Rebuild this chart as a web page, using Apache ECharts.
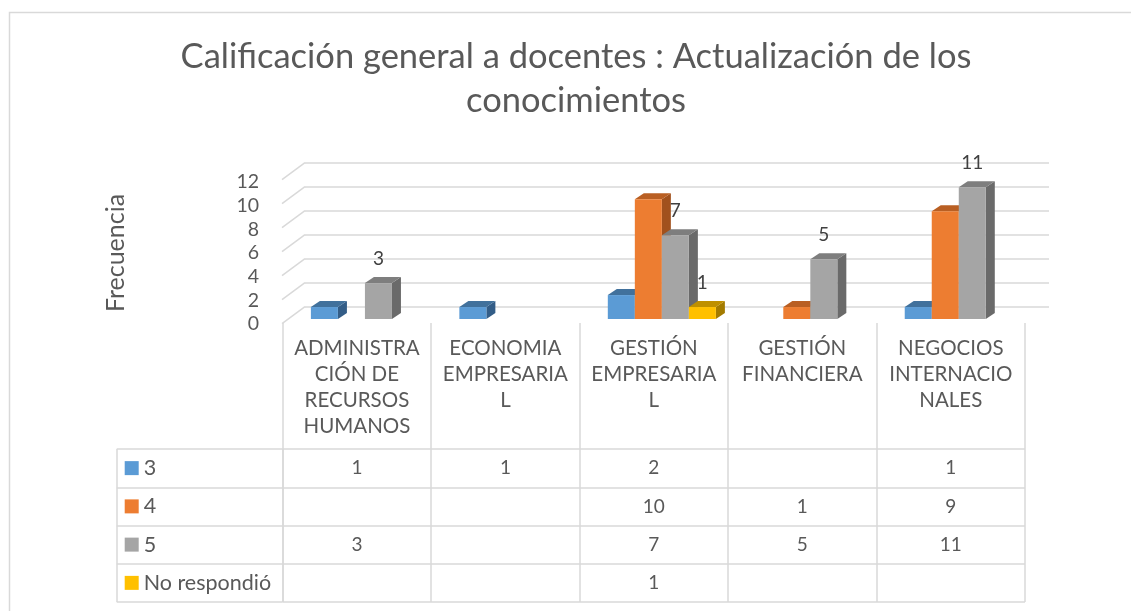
<!DOCTYPE html>
<html>
<head>
<meta charset="utf-8">
<script src="https://cdn.jsdelivr.net/npm/echarts@6/dist/echarts.min.js"></script>
<style>
    html, body { margin: 0; padding: 0; background: #fff; }
    #main { width: 1131px; height: 611px; }
</style>
</head>
<body>
<div id="main"></div>
<script>
;(function(){
    // datos
    var titulo = 'Calificación general a docentes : Actualización de los\nconocimientos';
    var categorias = ['ADMINISTRA\nCIÓN DE\nRECURSOS\nHUMANOS', 'ECONOMIA\nEMPRESARIA\nL', 'GESTIÓN\nEMPRESARIA\nL', 'GESTIÓN\nFINANCIERA', 'NEGOCIOS\nINTERNACIO\nNALES'];
    var nombres = ['3', '4', '5', 'No respondió'];
    var valores3 = [1, 1, 2, null, 1];
    var valores4 = [null, null, 10, 1, 9];
    var valores5 = [3, null, 7, 5, 11];
    var valoresNR = [null, null, 1, null, null];
    var yTicks = [0, 2, 4, 6, 8, 10, 12];

    var tablas = [valores3, valores4, valores5, valoresNR];
    var conEtiqueta = [false, false, true, true];
    var fuente = 'Lato, Carlito, Calibri, sans-serif';
    var gris = '#595959', linea = '#d9d9d9';
    var colores = [
        {front: '#5B9BD5', top: '#41719C', side: '#335D87'},
        {front: '#ED7D31', top: '#B95F23', side: '#A1511D'},
        {front: '#A5A5A5', top: '#7E7E7E', side: '#6A6A6A'},
        {front: '#FFC000', top: '#BF9000', side: '#A37B00'}
    ];

    function barra(idx) {
        return function (params, api) {
            var c = api.value(0), v = api.value(1);
            var base = api.coord([c, 0]);
            var top = api.coord([c, v]);
            var bw = api.size([1, 0])[0] * 0.182;
            var x0 = base[0] - 2 * bw + idx * bw;
            var dx = 9, dy = -6;
            var col = colores[idx];
            var kids = [
                {type: 'polygon', shape: {points: [[x0 + bw, top[1]], [x0 + bw + dx, top[1] + dy], [x0 + bw + dx, base[1] + dy], [x0 + bw, base[1]]]}, style: {fill: col.side}},
                {type: 'polygon', shape: {points: [[x0, top[1]], [x0 + bw, top[1]], [x0 + bw + dx, top[1] + dy], [x0 + dx, top[1] + dy]]}, style: {fill: col.top}},
                {type: 'rect', shape: {x: x0, y: top[1], width: bw, height: base[1] - top[1]}, style: {fill: col.front}}
            ];
            if (conEtiqueta[idx]) {
                kids.push({type: 'text', x: x0 + bw / 2, y: top[1] - 24,
                    style: {text: String(v), align: 'center', verticalAlign: 'middle', fontSize: 19, fontFamily: fuente, fill: '#404040'}});
            }
            return {type: 'group', children: kids};
        };
    }

    var series = [];
    // lineas diagonales del piso/pared
    series.push({
        type: 'custom', xAxisIndex: 0, yAxisIndex: 0, silent: true,
        data: yTicks.map(function (v) { return [0, v]; }),
        renderItem: function (params, api) {
            var p = api.coord([0, api.value(1)]);
            return {type: 'line', shape: {x1: p[0], y1: p[1], x2: p[0] - 23, y2: p[1] + 17}, style: {stroke: linea, lineWidth: 1.5}};
        }
    });
    tablas.forEach(function (vals, s) {
        var d = [];
        vals.forEach(function (v, c) { if (v != null) d.push([c, v]); });
        series.push({
            type: 'custom', name: nombres[s], xAxisIndex: 2, yAxisIndex: 2, silent: true,
            data: d, renderItem: barra(s)
        });
    });
    // valores de la tabla
    var celdas = [];
    tablas.forEach(function (vals, s) {
        vals.forEach(function (v, c) { if (v != null) celdas.push([c, s, v]); });
    });
    series.push({
        type: 'custom', xAxisIndex: 4, yAxisIndex: 4, silent: true,
        data: celdas,
        renderItem: function (params, api) {
            var p = api.coord([api.value(0), api.value(1)]);
            return {type: 'text', x: p[0], y: p[1],
                style: {text: String(api.value(2)), align: 'center', verticalAlign: 'middle', fontSize: 19, fontFamily: fuente, fill: gris}};
        }
    });

    var rich = {t: {fontSize: 21.5, fontFamily: fuente, color: gris, padding: [0, 0, 0, 5]}};
    colores.forEach(function (c, i) {
        rich['k' + i] = {width: 14, height: 14, backgroundColor: c.front};
    });

    var sinEje = {axisLine: {show: false}, axisTick: {show: false}, axisLabel: {show: false}};
    var split = {show: true, interval: 0, lineStyle: {color: linea, width: 1.5}};

    var option = {
        backgroundColor: '#fff',
        animation: false,
        graphic: [{
            type: 'rect', silent: true, z: -10,
            shape: {x: 9.5, y: 12.5, width: 1200, height: 700},
            style: {fill: 'none', stroke: linea, lineWidth: 1.5}
        }, {
            type: 'text', silent: true, x: 576, y: 35,
            style: {text: titulo, align: 'center', verticalAlign: 'top', fontFamily: fuente, fontSize: 34.5, lineHeight: 44, fill: gris}
        }],
        grid: [
            {left: 305, right: 82, top: 162.7, bottom: 304.3},
            {left: 282, width: 10, top: 182, bottom: 287},
            {left: 290.7, right: 98, top: 175.4, bottom: 292},
            {left: 282.7, right: 106, top: 323, height: 126},
            {left: 282.7, right: 106, top: 449, bottom: 9},
            {left: 116.7, width: 166, top: 449, bottom: 9}
        ],
        xAxis: [
            {gridIndex: 0, type: 'value', min: 0, max: 1, show: false},
            {gridIndex: 1, type: 'value', min: 0, max: 1, show: false},
            {gridIndex: 2, type: 'category', data: categorias, show: false},
            {gridIndex: 3, type: 'category', data: categorias, position: 'top',
                axisLine: {show: false}, axisTick: {show: false}, splitLine: split,
                axisLabel: {inside: true, interval: 0, margin: 12, fontSize: 20.5, lineHeight: 26, fontFamily: fuente, color: gris}},
            Object.assign({gridIndex: 4, type: 'category', data: categorias, splitLine: split}, sinEje),
            Object.assign({gridIndex: 5, type: 'category', data: [''], splitLine: split}, sinEje)
        ],
        yAxis: [
            {gridIndex: 0, type: 'value', min: 0, max: 12, interval: 2,
                axisLine: {show: false}, axisTick: {show: false}, axisLabel: {show: false},
                splitLine: {show: true, lineStyle: {color: linea, width: 1.5}}},
            {gridIndex: 1, type: 'value', min: 0, max: 12, interval: 2,
                name: 'Frecuencia', nameLocation: 'middle', nameRotate: 90, nameGap: 154,
                nameTextStyle: {fontFamily: fuente, fontSize: 25, color: gris},
                axisLine: {show: false}, axisTick: {show: false}, splitLine: {show: false},
                axisLabel: {margin: 23, fontSize: 19.5, fontFamily: fuente, color: gris}},
            {gridIndex: 2, type: 'value', min: 0, max: 12, show: false},
            {gridIndex: 3, type: 'value', show: false},
            Object.assign({gridIndex: 4, type: 'category', data: nombres, inverse: true, splitLine: split}, sinEje),
            {gridIndex: 5, type: 'category', data: nombres, inverse: true, splitLine: split,
                axisLine: {show: false}, axisTick: {show: false},
                axisLabel: {inside: true, margin: 8, rich: rich,
                    formatter: function (val, i) { return '{k' + i + '|}{t|' + val + '}'; }}}
        ],
        series: series
    };

    echarts.init(document.getElementById('main')).setOption(option);
})();
</script>
</body>
</html>
